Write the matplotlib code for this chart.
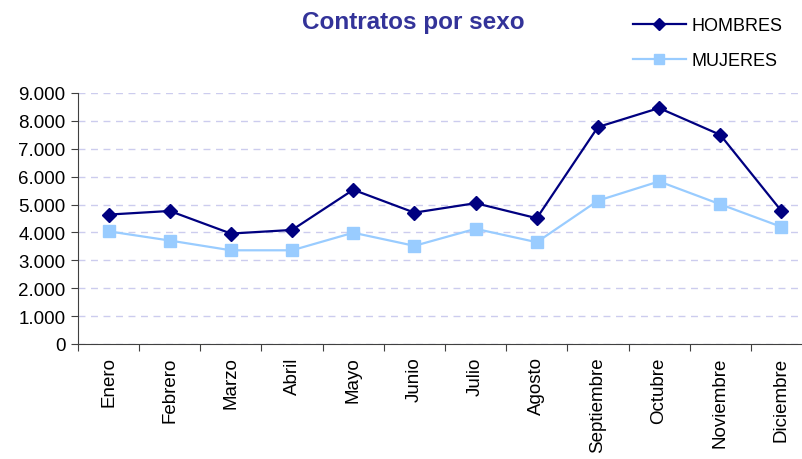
import matplotlib.pyplot as plt
from matplotlib.ticker import FuncFormatter

meses = ['Enero', 'Febrero', 'Marzo', 'Abril', 'Mayo', 'Junio', 'Julio',
         'Agosto', 'Septiembre', 'Octubre', 'Noviembre', 'Diciembre']
hombres = [4640, 4770, 3960, 4090, 5530, 4710, 5050, 4510, 7780, 8460, 7500, 4770]
mujeres = [4040, 3710, 3360, 3360, 3990, 3520, 4130, 3650, 5140, 5830, 5010, 4200]

plt.rcParams['font.family'] = ['Liberation Sans', 'DejaVu Sans']

fig = plt.figure(figsize=(8.03, 4.6), dpi=100)
ax = fig.add_axes([78 / 803, 1 - 345 / 460, 734 / 803, 251 / 460])

x = range(len(meses))
ax.plot(x, hombres, color='#000080', marker='D', markersize=7, linewidth=1.6, label='HOMBRES')
ax.plot(x, mujeres, color='#99CCFF', marker='s', markersize=8, linewidth=1.6, label='MUJERES')

ax.set_xlim(-0.5, 11.5)
ax.set_ylim(0, 9000)
ax.set_yticks(range(0, 9001, 1000))
ax.yaxis.set_major_formatter(FuncFormatter(lambda v, p: f'{int(v):,}'.replace(',', '.')))
ax.grid(axis='y', color='#ccccee', linestyle=(0, (5, 4)), linewidth=1)
ax.set_axisbelow(True)

# ticks between categories, labels centred
ax.set_xticks([i - 0.5 for i in range(13)])
ax.set_xticklabels([])
ax.set_xticks(list(x), minor=True)
ax.set_xticklabels(meses, minor=True, rotation=90, fontsize=13.5)
ax.tick_params(axis='x', which='minor', length=0, pad=9)
ax.tick_params(axis='x', which='major', length=5, direction='out', color='#404040')
ax.tick_params(axis='y', length=5, labelsize=13.5, color='#404040', pad=4)

for s in ['top', 'right']:
    ax.spines[s].set_visible(False)
ax.spines['left'].set_color('#404040')
ax.spines['bottom'].set_color('#404040')

fig.text(413 / 803, 1 - 22 / 460, 'Contratos por sexo', ha='center', va='center',
         fontsize=17.5, fontweight='bold', color='#333399')

leg = fig.legend(loc='upper left', bbox_to_anchor=(617 / 803, 1 - 2 / 460), frameon=False,
                 fontsize=13, handlelength=2.9, labelspacing=1.0, handletextpad=0.3,
                 markerscale=0.85)

fig.savefig('out.png', dpi=100)
